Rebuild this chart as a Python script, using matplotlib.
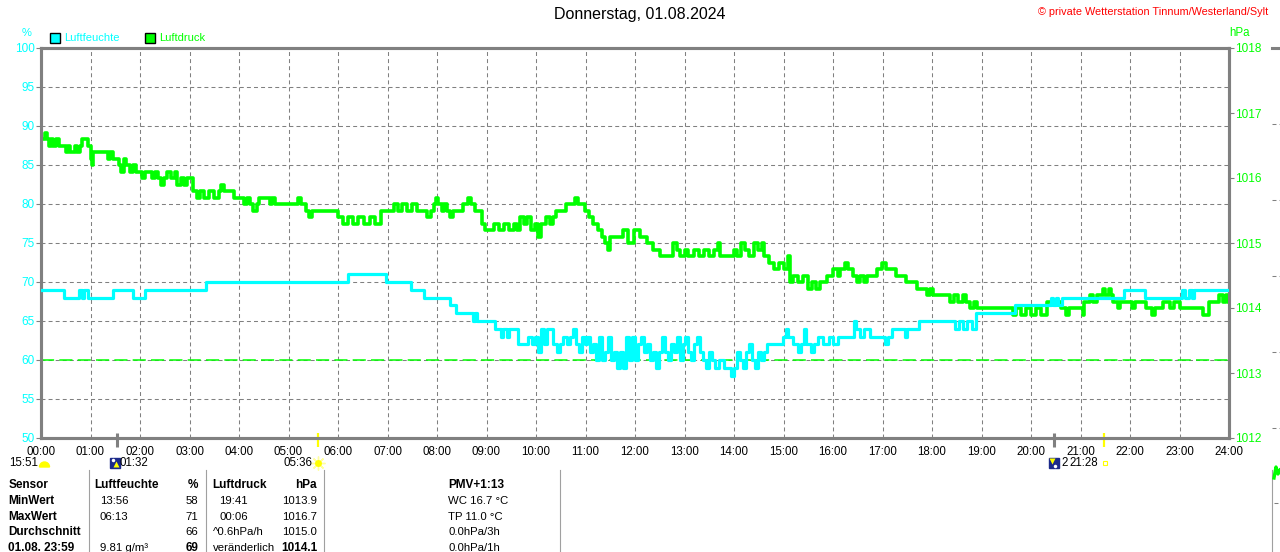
import matplotlib
matplotlib.use('Agg')
from matplotlib import pyplot as plt
from matplotlib import transforms
from matplotlib.patches import Rectangle, Wedge

plt.rcParams['font.family'] = ['Liberation Sans', 'DejaVu Sans']

W, H = 1280, 552
CYAN = '#00ffff'
GREEN = '#00ff00'
GRAY = '#808080'

title = 'Donnerstag, 01.08.2024'
credit = '\u00a9 private Wetterstation Tinnum/Westerland/Sylt'
hour_labels = ['%02d:00' % h for h in range(25)]
hum_ticks = [50, 55, 60, 65, 70, 75, 80, 85, 90, 95, 100]
press_ticks = [1012, 1013, 1014, 1015, 1016, 1017, 1018]
hum_ref = 60

# humidity (%), step changes, time in hours
hum_t = [0.00, 0.47, 0.77, 0.82, 0.86, 0.95, 1.45, 1.86, 2.10, 3.34,
         6.20, 6.96, 7.47, 7.73, 8.27, 8.39, 8.72, 8.76, 8.80, 9.18,
         9.30, 9.34, 9.42, 9.46, 9.64, 9.84, 9.92, 9.98, 10.04, 10.10,
         10.16, 10.22, 10.35, 10.42, 10.48, 10.55, 10.62, 10.68, 10.74, 10.80,
         10.86, 10.92, 10.98, 11.04, 11.10, 11.16, 11.22, 11.28, 11.34, 11.40,
         11.46, 11.52, 11.58, 11.64, 11.70, 11.76, 11.82, 11.88, 11.94, 12.00,
         12.06, 12.12, 12.18, 12.24, 12.30, 12.36, 12.42, 12.48, 12.54, 12.60,
         12.66, 12.72, 12.78, 12.84, 12.90, 12.96, 13.02, 13.08, 13.14, 13.20,
         13.26, 13.32, 13.38, 13.44, 13.50, 13.56, 13.62, 13.70, 13.80, 13.93,
         14.00, 14.06, 14.12, 14.18, 14.24, 14.30, 14.36, 14.42, 14.48, 14.54,
         14.60, 14.67, 14.99, 15.05, 15.10, 15.20, 15.30, 15.35, 15.41, 15.46,
         15.55, 15.62, 15.70, 15.80, 15.91, 16.00, 16.10, 16.43, 16.47, 16.55,
         16.62, 16.74, 17.05, 17.12, 17.20, 17.45, 17.50, 17.73, 18.47, 18.55,
         18.62, 18.70, 18.80, 18.88, 19.67, 20.40, 20.44, 20.50, 20.55, 20.62,
         21.87, 22.30, 23.05, 23.12, 23.20, 23.25, 23.30, 24.00]
hum_v = [69, 68, 69, 68, 69, 68, 69, 68, 69, 70,
         71, 70, 69, 68, 67, 66, 65, 66, 65, 64,
         63, 64, 63, 64, 62, 63, 62, 63, 61, 64,
         62, 64, 62, 61, 62, 63, 62, 63, 64, 62,
         61, 63, 62, 63, 61, 62, 60, 63, 60, 61,
         63, 60, 61, 59, 61, 59, 63, 60, 63, 60,
         62, 63, 61, 62, 60, 61, 59, 61, 63, 61,
         60, 62, 61, 63, 60, 62, 63, 61, 60, 62,
         63, 61, 60, 59, 61, 60, 59, 60, 59, 58,
         59, 61, 60, 59, 61, 62, 60, 59, 61, 60,
         61, 62, 63, 64, 63, 62, 61, 62, 64, 62,
         61, 62, 63, 62, 63, 62, 63, 65, 64, 63,
         64, 63, 62, 63, 64, 63, 64, 65, 64, 65,
         64, 65, 64, 66, 67, 68, 67, 68, 67, 68,
         69, 68, 69, 68, 69, 68, 69, 69]

# air pressure (hPa), step changes
press_t = [0.00, 0.08, 0.12, 0.16, 0.20, 0.25, 0.30, 0.36, 0.50, 0.55,
           0.58, 0.68, 0.72, 0.78, 0.82, 0.94, 1.00, 1.03, 1.06, 1.35,
           1.40, 1.45, 1.58, 1.62, 1.68, 1.72, 1.80, 1.86, 1.92, 2.05,
           2.10, 2.25, 2.30, 2.36, 2.42, 2.48, 2.55, 2.62, 2.70, 2.75,
           2.82, 2.88, 2.94, 3.07, 3.15, 3.22, 3.30, 3.40, 3.50, 3.60,
           3.64, 3.70, 3.90, 4.10, 4.16, 4.22, 4.28, 4.36, 4.41, 4.62,
           4.66, 4.72, 5.19, 5.25, 5.35, 5.42, 5.48, 5.99, 6.10, 6.20,
           6.30, 6.40, 6.53, 6.65, 6.75, 6.87, 7.14, 7.22, 7.30, 7.40,
           7.50, 7.60, 7.80, 7.88, 7.93, 7.98, 8.03, 8.10, 8.14, 8.20,
           8.27, 8.33, 8.53, 8.62, 8.68, 8.77, 8.90, 8.96, 9.15, 9.25,
           9.35, 9.45, 9.55, 9.62, 9.67, 9.75, 9.82, 9.90, 9.98, 10.04,
           10.10, 10.20, 10.28, 10.35, 10.40, 10.60, 10.78, 10.84, 10.99, 11.08,
           11.16, 11.25, 11.33, 11.40, 11.46, 11.50, 11.76, 11.86, 11.97, 12.10,
           12.25, 12.37, 12.50, 12.77, 12.84, 12.90, 13.00, 13.08, 13.20, 13.30,
           13.40, 13.50, 13.60, 13.68, 13.72, 14.00, 14.06, 14.15, 14.22, 14.30,
           14.40, 14.48, 14.56, 14.60, 14.70, 14.80, 14.90, 15.00, 15.10, 15.14,
           15.20, 15.30, 15.40, 15.50, 15.58, 15.65, 15.74, 15.87, 16.00, 16.10,
           16.14, 16.25, 16.30, 16.40, 16.48, 16.55, 16.62, 16.68, 16.88, 16.98,
           17.08, 17.28, 17.48, 17.69, 17.90, 17.96, 18.02, 18.36, 18.45, 18.52,
           18.62, 18.68, 18.77, 18.84, 18.90, 19.64, 19.70, 19.80, 19.90, 20.00,
           20.10, 20.20, 20.32, 20.60, 20.70, 20.76, 21.05, 21.08, 21.20, 21.26,
           21.33, 21.45, 21.50, 21.58, 21.62, 21.66, 21.75, 21.80, 22.05, 22.10,
           22.33, 22.45, 22.50, 22.67, 22.80, 22.88, 23.00, 23.48, 23.60, 23.80,
           23.88, 23.94, 24.00]
press_v = [1016.6, 1016.7, 1016.6, 1016.5, 1016.6, 1016.5, 1016.6, 1016.5, 1016.4, 1016.5,
           1016.4, 1016.5, 1016.4, 1016.5, 1016.6, 1016.5, 1016.3, 1016.2, 1016.4, 1016.3,
           1016.4, 1016.3, 1016.2, 1016.1, 1016.3, 1016.2, 1016.1, 1016.2, 1016.1, 1016.0,
           1016.1, 1016.0, 1016.1, 1016.0, 1015.9, 1016.0, 1016.1, 1016.0, 1016.1, 1015.9,
           1016.0, 1015.9, 1016.0, 1015.8, 1015.7, 1015.8, 1015.7, 1015.8, 1015.7, 1015.8,
           1015.9, 1015.8, 1015.7, 1015.6, 1015.7, 1015.6, 1015.5, 1015.6, 1015.7, 1015.6,
           1015.7, 1015.6, 1015.7, 1015.6, 1015.5, 1015.4, 1015.5, 1015.4, 1015.3, 1015.4,
           1015.3, 1015.4, 1015.3, 1015.4, 1015.3, 1015.5, 1015.6, 1015.5, 1015.6, 1015.5,
           1015.6, 1015.5, 1015.4, 1015.5, 1015.6, 1015.7, 1015.6, 1015.5, 1015.6, 1015.5,
           1015.4, 1015.5, 1015.6, 1015.7, 1015.6, 1015.5, 1015.3, 1015.2, 1015.3, 1015.2,
           1015.3, 1015.2, 1015.3, 1015.2, 1015.4, 1015.3, 1015.4, 1015.2, 1015.3, 1015.1,
           1015.3, 1015.4, 1015.3, 1015.4, 1015.5, 1015.6, 1015.7, 1015.6, 1015.5, 1015.4,
           1015.3, 1015.2, 1015.1, 1015.0, 1014.9, 1015.1, 1015.2, 1015.0, 1015.2, 1015.1,
           1015.0, 1014.9, 1014.8, 1015.0, 1014.9, 1014.8, 1014.9, 1014.8, 1014.9, 1014.8,
           1014.9, 1014.8, 1014.9, 1015.0, 1014.8, 1014.9, 1014.8, 1015.0, 1014.9, 1014.8,
           1015.0, 1014.9, 1015.0, 1014.8, 1014.7, 1014.6, 1014.7, 1014.6, 1014.8, 1014.4,
           1014.5, 1014.4, 1014.5, 1014.3, 1014.4, 1014.3, 1014.4, 1014.5, 1014.6, 1014.5,
           1014.6, 1014.7, 1014.6, 1014.5, 1014.4, 1014.5, 1014.4, 1014.5, 1014.6, 1014.7,
           1014.6, 1014.5, 1014.4, 1014.3, 1014.2, 1014.3, 1014.2, 1014.1, 1014.2, 1014.1,
           1014.2, 1014.1, 1014.0, 1014.1, 1014.0, 1013.9, 1014.0, 1013.9, 1014.0, 1013.9,
           1014.0, 1013.9, 1014.1, 1014.0, 1013.9, 1014.0, 1013.9, 1014.1, 1014.2, 1014.1,
           1014.2, 1014.3, 1014.2, 1014.3, 1014.2, 1014.1, 1014.0, 1014.1, 1014.0, 1014.1,
           1014.0, 1013.9, 1014.0, 1014.1, 1014.0, 1014.1, 1014.0, 1013.9, 1014.1, 1014.2,
           1014.1, 1014.2, 1014.1]

assert len(hum_t) == len(hum_v)
assert len(press_t) == len(press_v)

# moon / sun events (hours)
moon_rise = 1 + 32 / 60.
sun_rise = 5 + 36 / 60.
moon_set = 20 + 28 / 60.
sun_set = 21 + 28 / 60.

# summary table
tab_sensor = ['Sensor', 'MinWert', 'MaxWert', 'Durchschnitt', '01.08. 23:59']
tab_hum_time = ['Luftfeuchte', '13:56', '06:13', '', '9.81 g/m\u00b3']
tab_hum_val = ['%', '58', '71', '66', '69']
tab_press_time = ['Luftdruck', '19:41', '00:06', '^0.6hPa/h', 'ver\u00e4nderlich']
tab_press_val = ['hPa', '1013.9', '1016.7', '1015.0', '1014.1']
tab_extra = ['PMV+1:13', 'WC 16.7 \u00b0C', 'TP 11.0 \u00b0C', '0.0hPa/3h', '0.0hPa/1h']

fig = plt.figure(figsize=(W / 100., H / 100.), dpi=100)
fig.patch.set_facecolor('white')
# pixel coordinates, origin top left
pix = transforms.Affine2D().scale(1.0 / W, -1.0 / H).translate(0, 1) + fig.transFigure

ax = fig.add_axes([41. / W, 1 - 438. / H, 1188. / W, 390. / H])
ax2 = ax.twinx()

ax.grid(True, color=GRAY, lw=0.75, ls=(0, (3.8, 3.0)))
ax.set_axisbelow(True)
ax.axhline(hum_ref, color=GREEN, lw=1.1, ls=(0, (8.6, 3.4)), zorder=1)

ax2.plot(press_t, press_v, drawstyle='steps-post', color=GREEN, lw=2.6, zorder=2)
ax2.plot(hum_t, hum_v, drawstyle='steps-post', color=CYAN, lw=2.3, zorder=3,
         transform=ax.transData)

ax.set_xlim(0, 24)
ax.set_ylim(50, 100)
ax2.set_ylim(1012, 1018)
ax.set_xticks(range(25))
ax.set_xticklabels(hour_labels)
ax.set_yticks(hum_ticks)
ax2.set_yticks(press_ticks)

for a in (ax, ax2):
    for s in a.spines.values():
        s.set_color(GRAY)
        s.set_linewidth(2.2)

ax.tick_params(axis='x', length=0, pad=6, labelsize=8.3, labelcolor='black')
ax.tick_params(axis='y', length=3.3, width=0.8, color=GRAY, pad=1,
               labelsize=8.5, labelcolor=CYAN)
ax2.tick_params(axis='y', length=3.3, width=0.8, color=GRAY, pad=1,
                labelsize=8.5, labelcolor=GREEN)

# event marks on the time axis
base = transforms.blended_transform_factory(ax.transData, ax.transAxes)

def at_event(dx, dy):
    return transforms.offset_copy(base, fig=fig, x=dx, y=dy, units='dots')

for t, c, w in [(moon_rise, GRAY, 2.2), (moon_set, GRAY, 2.2),
                (sun_rise, '#ffff00', 1.6), (sun_set, '#ffff00', 1.6)]:
    ax.plot([t, t], [0.013, -0.024], transform=base, color=c, lw=w,
            clip_on=False, solid_capstyle='butt', zorder=5)

ev_y = -25
# moon rise icon
ax.plot([moon_rise], [0], transform=at_event(-2, ev_y), marker='s', ms=7,
        color='#1c2a8a', clip_on=False)
ax.plot([moon_rise], [0], transform=at_event(-4, ev_y + 3), marker='o', ms=2.5,
        color='white', mec='none', clip_on=False)
ax.plot([moon_rise], [0], transform=at_event(-1, ev_y - 1), marker='^', ms=4,
        color='#ffff00', mec='none', clip_on=False)
ax.text(moon_rise, 0, '01:32', transform=at_event(2.5, ev_y), ha='left',
        va='center', fontsize=8.3)
# sun rise
ax.plot([sun_rise], [0], transform=at_event(0, ev_y), marker=(8, 2, 0), ms=10,
        color='#ffffa0', mew=1, clip_on=False)
ax.plot([sun_rise], [0], transform=at_event(0, ev_y), marker='o', ms=5,
        color='#ffff00', mec='none', clip_on=False)
ax.text(sun_rise, 0, '05:36', transform=at_event(-6, ev_y), ha='right',
        va='center', fontsize=8.3)
# moon set
ax.plot([moon_set], [0], transform=at_event(0, ev_y), marker='s', ms=7,
        color='#1c2a8a', clip_on=False)
ax.plot([moon_set], [0], transform=at_event(-2, ev_y + 2), marker='v', ms=4,
        color='#ffff00', mec='none', clip_on=False)
ax.plot([moon_set], [0], transform=at_event(1, ev_y - 3), marker='o', ms=2.5,
        color='white', mec='none', clip_on=False)
ax.text(moon_set, 0, '2', transform=at_event(7, ev_y), ha='left',
        va='center', fontsize=8.3)
# sun set
ax.text(sun_set, 0, '21:28', transform=at_event(-5.5, ev_y), ha='right',
        va='center', fontsize=8.3)
ax.plot([sun_set], [0], transform=at_event(1, ev_y), marker='s', ms=3.5,
        mfc='none', mec='#ffff00', mew=0.8, clip_on=False)

# moon phase item at the left
fig.text(9. / W, 1 - 463. / H, '15:51', ha='left', va='center', fontsize=8.3)
fig.add_artist(Wedge((44.5, 467), 5, 180, 360, transform=pix, color='#ffff00'))

# header texts
fig.text(640. / W, 1 - 15. / H, title, ha='center', va='center', fontsize=11.5)
fig.text(1268. / W, 1 - 12. / H, credit, ha='right', va='center',
         fontsize=7.8, color='red')
fig.text(26.5 / W, 1 - 32.5 / H, '%', ha='center', va='center', fontsize=8,
         color=CYAN)
fig.text(1239.5 / W, 1 - 32.5 / H, 'hPa', ha='center', va='center',
         fontsize=8.3, color=GREEN)

# legend
for x0, c, name in [(50, CYAN, 'Luftfeuchte'), (145, GREEN, 'Luftdruck')]:
    fig.add_artist(Rectangle((x0, 33), 10, 10, transform=pix, facecolor=c,
                             edgecolor='black', lw=1))
    fig.text((x0 + 14.) / W, 1 - 38. / H, name, ha='left', va='center',
             fontsize=8, color=c)

# table
row_y = [485, 501, 517, 532, 548]
for x0 in [89, 205.5, 323.5, 559.5]:
    fig.add_artist(plt.Line2D([x0, x0], [470, 552], transform=pix, color='#a0a0a0',
                              lw=0.8))

def cell(x, y, s, bold=False, ha='left'):
    fig.text(x / W, 1 - y / H, s, ha=ha, va='center',
             fontsize=8.5 if bold else 8.2, fontweight='bold' if bold else 'normal')

for i, y in enumerate(row_y):
    head = i == 0
    last = i == len(row_y) - 1
    cell(8.5, y, tab_sensor[i], bold=True)
    cell(94.5 if head else 100, y, tab_hum_time[i], bold=head)
    cell(198, y, tab_hum_val[i], bold=head or last, ha='right')
    cell(212.5 if (head or i >= 3) else 219, y, tab_press_time[i], bold=head)
    cell(317, y, tab_press_val[i], bold=head or last, ha='right')
    cell(448.5, y, tab_extra[i], bold=head)

# edge of the neighbouring chart at the right border
fig.add_artist(plt.Line2D([1272, 1280], [48, 48], transform=pix, color=GRAY, lw=2.2))
for y in [124, 200, 276, 352, 428]:
    fig.add_artist(plt.Line2D([1272, 1280], [y, y], transform=pix, color=GRAY,
                              lw=0.75, ls=(0, (3.8, 3.0))))
fig.add_artist(plt.Line2D([1272, 1272], [470, 552], transform=pix, color='#a0a0a0',
                          lw=0.8))
fig.add_artist(plt.Line2D([1274, 1276, 1278, 1280], [478, 467, 474, 470],
                          transform=pix, color=GREEN, lw=2.4))
fig.add_artist(plt.Line2D([1274, 1280], [503, 503], transform=pix, color=GRAY,
                          lw=0.75, ls=(0, (3.8, 3.0))))

fig.savefig('out.png', dpi=100, facecolor='white')
